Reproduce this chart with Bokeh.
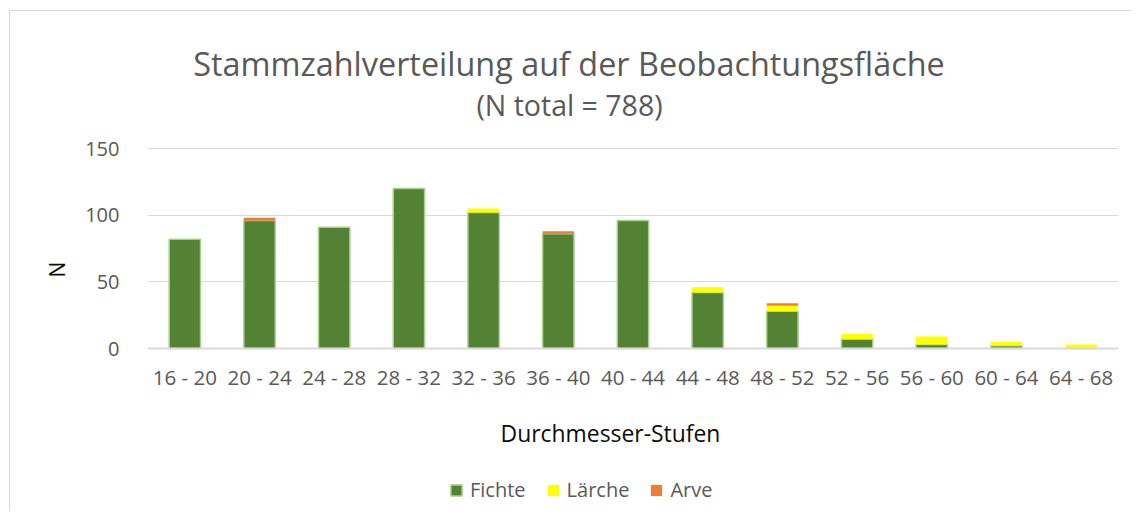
from bokeh.plotting import figure
from bokeh.models import ColumnDataSource, Legend, LegendItem, Title, Label
from bokeh.embed import file_html
from bokeh.resources import INLINE

categories = ["16 - 20", "20 - 24", "24 - 28", "28 - 32", "32 - 36", "36 - 40", "40 - 44",
              "44 - 48", "48 - 52", "52 - 56", "56 - 60", "60 - 64", "64 - 68"]
fichte = [82, 96, 91, 120, 102, 86, 96, 42, 28, 7, 3, 2, 0]
laerche = [0, 0, 0, 0, 3, 0, 0, 4, 4, 4, 6, 3, 3]
arve = [0, 2, 0, 0, 0, 2, 0, 0, 2, 0, 0, 0, 0]
series_names = ["Fichte", "Lärche", "Arve"]
y_ticks = [0, 50, 100, 150]
title_text = "Stammzahlverteilung auf der Beobachtungsfläche"
subtitle_text = "(N total = %d)" % (sum(fichte) + sum(laerche) + sum(arve))
x_title = "Durchmesser-Stufen"
y_title = "N"

FONT = "Open Sans"
GREY = "#595959"

W, H = 1131, 511
FRAME_L, FRAME_R = 147, 1118
PX_150, PX_0 = 148, 348            # pixel rows of the 150 and 0 gridlines
u_per_px = (y_ticks[-1] - y_ticks[0]) / (PX_0 - PX_150)
y_top = y_ticks[-1] + PX_150 * u_per_px
y_bot = y_ticks[0] - (H - PX_0) * u_per_px

source = ColumnDataSource(dict(cat=categories, fichte=fichte, laerche=laerche, arve=arve))

p = figure(width=W, height=H, x_range=categories, y_range=(y_bot, y_top),
           output_backend="svg", toolbar_location=None, title=None,
           min_border_left=FRAME_L, min_border_right=W - FRAME_R,
           min_border_top=0, min_border_bottom=0)
p.styles = {
    "background-color": "white",
    "background-image": "linear-gradient(#d9d9d9, #d9d9d9), linear-gradient(#d9d9d9, #d9d9d9)",
    "background-size": "1px 100%, 100% 1px",
    "background-position": "9px 10px, 9px 10px",
    "background-repeat": "no-repeat",
}
p.outline_line_color = None
p.background_fill_alpha = 0
p.border_fill_alpha = 0

renderers = p.vbar_stack(["fichte", "laerche", "arve"], x="cat", width=0.42, source=source,
                         fill_color=["#548235", "#ffff00", "#ed7d31"],
                         line_color=["#a9d18e", None, None],
                         line_width=[1.5, 0, 0])

p.x_range.range_padding = 0
p.xgrid.grid_line_color = None
p.ygrid.grid_line_color = "#d9d9d9"
p.ygrid.grid_line_width = 1

yax = p.yaxis[0]
yax.ticker = y_ticks
yax.axis_line_color = None
yax.major_tick_line_color = None
yax.minor_tick_line_color = None
yax.major_tick_out = 0
yax.major_tick_in = 0
yax.major_label_standoff = 28
yax.major_label_text_font = FONT
yax.major_label_text_font_size = "20px"
yax.major_label_text_color = GREY

xax = p.xaxis[0]
xax.fixed_location = 0
xax.axis_line_color = "#d9d9d9"
xax.axis_line_width = 2
xax.major_tick_line_color = None
xax.minor_tick_line_color = None
xax.major_tick_out = 0
xax.major_tick_in = 0
xax.major_label_standoff = 14
xax.major_label_text_font = FONT
xax.major_label_text_font_size = "20.5px"
xax.major_label_text_color = GREY


def lab(text, cx, baseline, size, color):
    fix = 0.31 * size
    p.add_layout(Label(x=cx - FRAME_L, y=H - baseline + fix, x_units="screen", y_units="screen",
                       text=text, text_font=FONT, text_font_size="%.1fpx" % size, text_color=color,
                       text_align="center", text_baseline="alphabetic"))


lab(title_text, 568.5, 73, 32.4, GREY)
lab(subtitle_text, 569, 113, 28.5, GREY)
lab(x_title, 610, 440, 22.9, "#0d0d0d")

p.add_layout(Title(text=y_title, align="left", offset=234, standoff=24,
                   text_font=FONT, text_font_size="21px", text_color="#0d0d0d",
                   text_font_style="normal"), "left")

legend = Legend(items=[LegendItem(label=n, renderers=[r]) for n, r in zip(series_names, renderers)],
                orientation="horizontal", location=(449 - FRAME_L, H - 503),
                glyph_width=14, glyph_height=14, label_standoff=7, spacing=20,
                padding=0, margin=0, border_line_color=None, background_fill_alpha=0,
                label_text_font=FONT, label_text_font_size="20px", label_text_color=GREY)
p.add_layout(legend, "center")

open("out.html", "w").write(file_html(p, INLINE))
